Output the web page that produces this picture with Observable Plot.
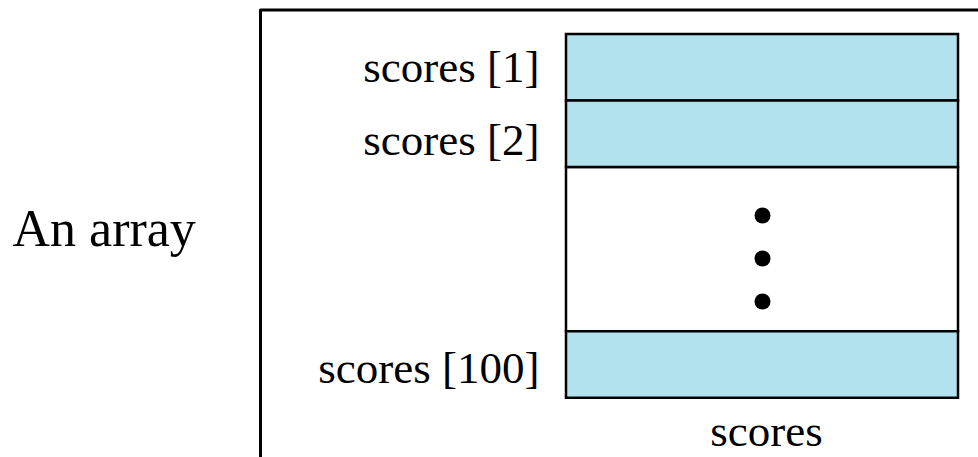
<!DOCTYPE html>
<html>
<head>
<meta charset="utf-8">
<script src="https://cdn.jsdelivr.net/npm/d3@7"></script>
<script src="https://cdn.jsdelivr.net/npm/@observablehq/plot@0.6"></script>
<style>
  html, body { margin: 0; padding: 0; background: #fff; }
  #chart svg { display: block; }
</style>
</head>
<body>
<div id="chart"></div>
<script>
// Data
const cellLabels = ["scores [1]", "scores [2]", "scores [100]"];
const cellRows = [0, 1, 4.47];        // row slot of each element
const gapRows = [2, 4.47];            // blank region (ellipsis) spans these rows
const ellipsisDots = [0, 1, 2];       // three dots
const arrayName = "scores";
const caption = "An array";

// Layout
const W = 978, H = 457;
const cellX0 = 566, cellX1 = 958;
const rowTop = 34, rowH = 66.5;
const rowY = r => rowTop + r * rowH;
const fs = 45;
const font = "'Liberation Serif', 'Times New Roman', serif";

const cells = cellLabels.map((label, i) => ({label, y1: rowY(cellRows[i]), y2: rowY(cellRows[i] + 1)}));
const gap = [{y1: rowY(gapRows[0]), y2: rowY(gapRows[1])}];
const dots = ellipsisDots.map(i => ({x: (cellX0 + cellX1) / 2, y: 215 + i * 43}));
const labelBaselineOffset = [0, 6, 4];

const chart = Plot.plot({
  width: W,
  height: H,
  margin: 0,
  x: {domain: [0, W], range: [0, W], axis: null},
  y: {domain: [0, H], range: [0, H], axis: null},
  marks: [
    // outer frame (left and top edges)
    Plot.line([{x: 260, y: H + 5}, {x: 260, y: 9.5}, {x: W + 5, y: 9.5}], {x: "x", y: "y", stroke: "#000", strokeWidth: 3}),
    Plot.rect(gap, {x1: cellX0, x2: cellX1, y1: "y1", y2: "y2", fill: "#fff", stroke: "#000", strokeWidth: 2.5}),
    Plot.rect(cells, {x1: cellX0, x2: cellX1, y1: "y1", y2: "y2", fill: "#b2e2ed", stroke: "#000", strokeWidth: 2.5}),
    Plot.dot(dots, {x: "x", y: "y", r: 8, fill: "#000"}),
    Plot.text(cells, {x: 539, y: (d, i) => (d.y1 + d.y2) / 2 + labelBaselineOffset[i], text: "label", textAnchor: "end", fontSize: fs, fontFamily: font, fill: "#000"}),
    Plot.text([arrayName], {x: 766, y: 431, text: d => d, fontSize: fs, fontFamily: font, fill: "#000"}),
    Plot.text([caption], {x: 12, y: 229, text: d => d, textAnchor: "start", fontSize: 52, fontFamily: font, fill: "#000"})
  ]
});
document.getElementById("chart").appendChild(chart);
</script>
</body>
</html>
